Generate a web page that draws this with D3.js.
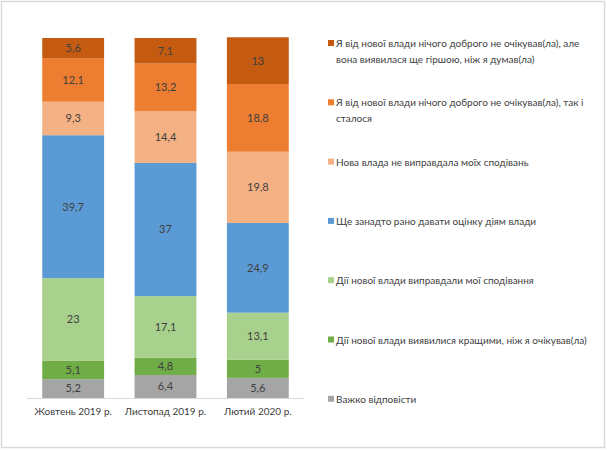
<!DOCTYPE html>
<html>
<head>
<meta charset="utf-8">
<script src="https://cdn.jsdelivr.net/npm/d3@7"></script>
<style>
html,body{margin:0;padding:0;background:#fff;}
svg{display:block;}
</style>
</head>
<body>
<svg id="chart" width="607" height="450"></svg>
<script>
const categories = ["Жовтень 2019 р.", "Листопад 2019 р.", "Лютий 2020 р."];
// series listed bottom to top of the stack
const seriesNames = [
  "Важко відповісти",
  "Дії нової влади виявилися кращими, ніж я очікував(ла)",
  "Дії нової влади виправдали мої сподівання",
  "Ще занадто рано давати оцінку діям влади",
  "Нова влада не виправдала моїх сподівань",
  "Я від нової влади нічого доброго не очікував(ла), так і сталося",
  "Я від нової влади нічого доброго не очікував(ла), але вона виявилася ще гіршою, ніж я думав(ла)"
];
const hardToSay   = [5.2, 6.4, 5.6];
const better      = [5.1, 4.8, 5];
const justified   = [23, 17.1, 13.1];
const tooEarly    = [39.7, 37, 24.9];
const notJustified= [9.3, 14.4, 19.8];
const asExpected  = [12.1, 13.2, 18.8];
const worse       = [5.6, 7.1, 13];
const seriesValues = [hardToSay, better, justified, tooEarly, notJustified, asExpected, worse];
const colors = ["#A5A5A5", "#70AD47", "#A9D18E", "#5B9BD5", "#F4B183", "#ED7D31", "#C55A11"];

const svg = d3.select("#chart");
const font = "Lato, 'Open Sans', sans-serif";

// frame
svg.append("rect").attr("x", 1.5).attr("y", 1.5).attr("width", 603).attr("height", 446)
  .attr("fill", "#fff").attr("stroke", "#d9d9d9").attr("stroke-width", 1.5);

const table = categories.map((c, i) => {
  const o = {cat: c};
  seriesNames.forEach((s, j) => o[s] = seriesValues[j][i]);
  return o;
});
const stacked = d3.stack().keys(seriesNames)(table);

const x = d3.scaleBand().domain(categories).range([27, 304]).paddingInner(0.33).paddingOuter(0.165);
const y = d3.scaleLinear().domain([0, 100]).range([398, 38]);

const g = svg.append("g");
stacked.forEach((layer, j) => {
  g.selectAll(null).data(layer).enter().append("rect")
    .attr("x", d => x(d.data.cat))
    .attr("width", x.bandwidth())
    .attr("y", d => y(d[1]))
    .attr("height", d => y(d[0]) - y(d[1]))
    .attr("fill", colors[j]);
  g.selectAll(null).data(layer).enter().append("text")
    .attr("x", d => x(d.data.cat) + x.bandwidth() / 2)
    .attr("y", d => (y(d[0]) + y(d[1])) / 2)
    .attr("dy", "0.35em")
    .attr("text-anchor", "middle")
    .attr("font-family", font)
    .attr("font-size", 11)
    .attr("fill", "#404040")
    .text(d => String(seriesValues[j][categories.indexOf(d.data.cat)]).replace(".", ","));
});

// x axis
const xAxis = d3.axisBottom(x).tickSize(0).tickPadding(10);
const ax = svg.append("g").attr("transform", "translate(0,398)").call(xAxis);
ax.select(".domain").attr("stroke", "#d9d9d9").attr("d", "M27,0.5H304");
ax.selectAll("text").attr("font-family", font).attr("font-size", 10).attr("fill", "#404040");

// legend (top to bottom)
const legendOrder = d3.range(seriesNames.length).reverse();
const leg = svg.append("g");
const maxW = 262;
legendOrder.forEach((j, k) => {
  const yy = 43.5 + k * 59.3;
  leg.append("rect").attr("x", 328).attr("y", yy - 3.5).attr("width", 6).attr("height", 6).attr("fill", colors[j]);
  const t = leg.append("text").attr("x", 336).attr("y", yy)
    .attr("font-family", font).attr("font-size", 10).attr("fill", "#404040");
  const words = seriesNames[j].split(" ");
  let line = [];
  let ts = t.append("tspan").attr("x", 336).attr("dy", "0.35em");
  words.forEach(w => {
    line.push(w);
    ts.text(line.join(" "));
    if (ts.node().getComputedTextLength() > maxW && line.length > 1) {
      line.pop();
      ts.text(line.join(" "));
      line = [w];
      ts = t.append("tspan").attr("x", 336).attr("dy", "16px").text(w);
    }
  });
});
</script>
</body>
</html>
